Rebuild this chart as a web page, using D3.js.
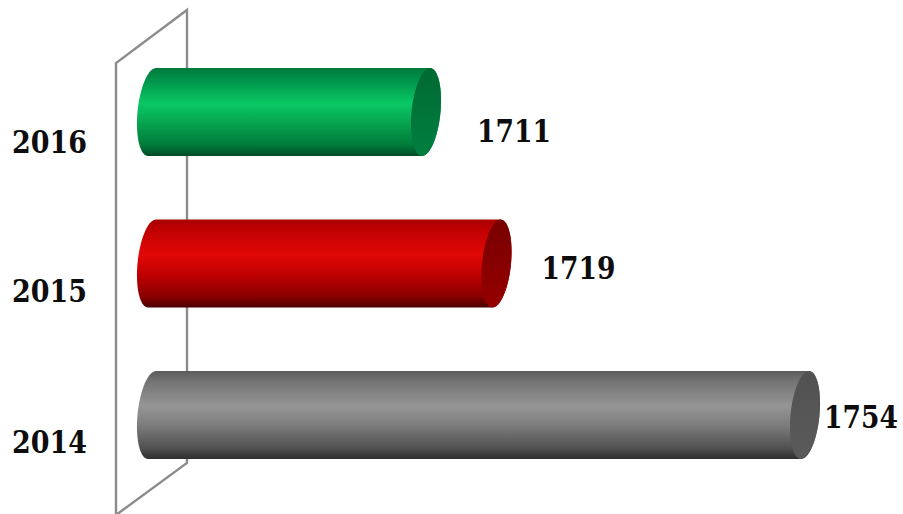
<!DOCTYPE html>
<html><head><meta charset="utf-8">
<script src="https://cdn.jsdelivr.net/npm/d3@7/dist/d3.min.js"></script>
<style>html,body{margin:0;padding:0;background:#fff;overflow:hidden}svg{display:block}
text{font-family:"DejaVu Serif Condensed","DejaVu Serif",serif;font-weight:700;font-size:31px;fill:#0d0d0d}</style>
</head><body><svg id="c" width="903" height="514"></svg>
<script>
const categories = ["2016","2015","2014"];
const values = [1711,1719,1754];
const bodyStops = [
  [["0","#007a3c"],["0.12","#009047"],["0.4","#0ac864"],["0.62","#07a550"],["0.88","#007a3a"],["1","#004a24"]],
  [["0","#a80000"],["0.12","#c00000"],["0.4","#e20808"],["0.62","#c00000"],["0.88","#880000"],["1","#4a0000"]],
  [["0","#5c5c5c"],["0.12","#747474"],["0.4","#959595"],["0.62","#7c7c7c"],["0.88","#505050"],["1","#2e2e2e"]]
];
const capColors = [["#006a33","#007f40"],["#780000","#960000"],["#525252","#5a5a5a"]];
const labelDy = [30,15,13];
const labelDx = [36,30,4];
const catDy = [85,83,82];

const svg = d3.select("#c");
const x = d3.scaleLinear().domain([1711,1754]).range([441,820]);
const y = d3.scaleBand().domain(categories).range([68,459]).paddingInner(0.419).paddingOuter(0);
const leftX = 137, rx = 15, bx = 14.5, ax = 4;
const bw = y.bandwidth(), ry = bw/2;

// wall
svg.append("path").attr("d", d3.line()([[116,520],[116,63],[187,10],[187,463],[116,515]]))
  .attr("fill","none").attr("stroke","#8c8c8c").attr("stroke-width",2.4);

const defs = svg.append("defs");
const ts = d3.range(0,1.0001,1/72).map(f=>f*Math.PI*2);
const ell = (cx,cy,t)=>[cx+ax*Math.cos(t)+bx*Math.sin(t), cy-ry*Math.cos(t)];
const line = d3.line();

categories.forEach((c,i)=>{
  const g0 = defs.append("linearGradient").attr("id","b"+i).attr("x1",0).attr("x2",0).attr("y1",0).attr("y2",1);
  bodyStops[i].forEach(s=>g0.append("stop").attr("offset",s[0]).attr("stop-color",s[1]));
  const g1 = defs.append("linearGradient").attr("id","k"+i).attr("x1",0).attr("x2",0).attr("y1",0).attr("y2",1);
  capColors[i].forEach((s,j)=>g1.append("stop").attr("offset",j).attr("stop-color",s));

  const cy = y(c)+ry, xr = x(values[i])-rx, xl = leftX+rx;
  const right = ts.filter(t=>t<=Math.PI).map(t=>ell(xr,cy,t));
  const left = ts.filter(t=>t>=Math.PI).map(t=>ell(xl,cy,t));
  svg.append("path").attr("d", line(right.concat(left))+"Z").attr("fill",`url(#b${i})`);
  svg.append("path").attr("d", line(ts.map(t=>ell(xr,cy,t)))+"Z").attr("fill",`url(#k${i})`);

  svg.append("text").attr("x",12).attr("y",y(c)+catDy[i]).attr("textLength",75).attr("lengthAdjust","spacingAndGlyphs").text(c);
  svg.append("text").attr("x",x(values[i])+labelDx[i]).attr("y",cy+labelDy[i]).attr("textLength",74).attr("lengthAdjust","spacingAndGlyphs").text(values[i]);
});
</script></body></html>
